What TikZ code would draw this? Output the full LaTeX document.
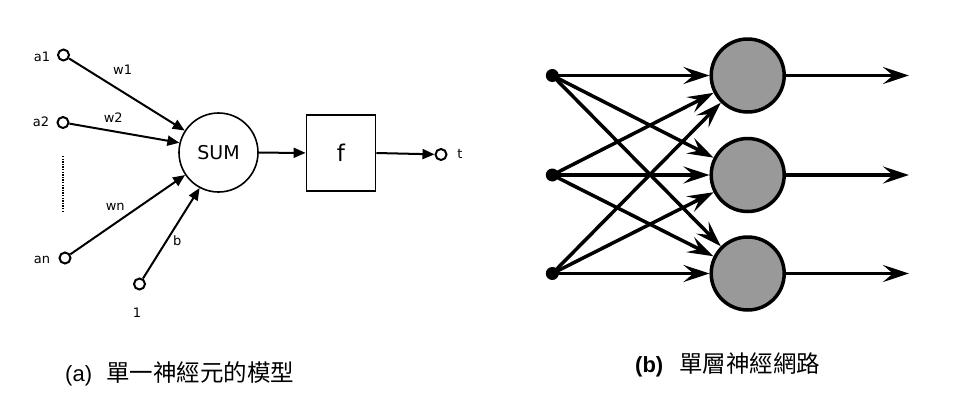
\documentclass[tikz,border=0pt]{standalone}
\usepackage{fontspec}
\setmainfont{DejaVu Sans}
\newfontfamily\arialfont{Liberation Sans}
\newfontfamily\cjkfont{Noto Sans CJK TC}
\usetikzlibrary{arrows.meta}
\definecolor{neurongrey}{RGB}{153,153,153}
\begin{document}
\begin{tikzpicture}[x=1pt,y=-1pt,
  port/.style={circle,draw,line width=2pt,minimum size=11pt,inner sep=0pt,fill=white},
  lab/.style={font=\fontsize{13}{15}\selectfont,inner sep=0pt},
  thinarrow/.style={-{Triangle[length=12pt,width=10pt]},line width=2pt},
  sumnode/.style={circle,draw,line width=1.6pt,minimum size=79pt,inner sep=0pt,font=\fontsize{19}{21}\selectfont},
  funbox/.style={draw,line width=1.8pt,minimum width=69pt,minimum height=76pt,inner sep=0pt,font=\fontsize{23}{25}\selectfont},
  gnode/.style={circle,draw,line width=3.5pt,fill=neurongrey,minimum size=73pt,inner sep=0pt},
  indot/.style={circle,fill=black,minimum size=13pt,inner sep=0pt},
  bigarrow/.style={-{Stealth[length=26pt,width=17pt,inset=10pt]},line width=3.5pt},
  caption/.style={inner sep=0pt,anchor=west}
]
\useasboundingbox[fill=white] (0,0) rectangle (967,405);

% ---------- (a) single neuron ----------
\node[port] (a1) at (63.5,55) {};
\node[port] (a2) at (63,122.5) {};
\node[port] (an) at (65,258) {};
\node[port] (one) at (139.5,284) {};
\node[lab] (la1) at (42,57) {a1};
\node[lab] (la2) at (41,122) {a2};
\node[lab] (lan) at (42,260) {an};
\node[lab] (lone) at (137,313) {1};
\coordinate (dtop) at (63,156);
\coordinate (dbot) at (63,212);
\draw[line width=1.8pt,dash pattern=on 1.4pt off 1.2pt] (dtop) -- (dbot);

\node[sumnode] (sum) at (218.5,152.5) {SUM};
\node[funbox] (f) at (341,153) {f};
\node[port] (t) at (441,154.5) {};
\node[lab] (lt) at (460,154) {t};

\draw[thinarrow] (a1) -- (sum.{147});
\draw[thinarrow] (a2) -- (sum.{166});
\draw[thinarrow] (an) -- (sum.{-146});
\draw[thinarrow] (one) -- (sum.{-118});
\draw[thinarrow] (sum) -- (f);
\draw[thinarrow] (f.east) -- (t);

\node[lab] (lw1) at (122.7,69.3) {w1};
\node[lab] (lw2) at (113.3,117.3) {w2};
\node[lab] (lwn) at (115.3,206.7) {wn};
\node[lab] (lb) at (177.3,241) {b};

% ---------- (b) single-layer network ----------
\node[indot] (d1) at (552.3,75.5) {};
\node[indot] (d2) at (552.3,175) {};
\node[indot] (d3) at (552.3,273.5) {};
\node[gnode] (g1) at (747.7,75.5) {};
\node[gnode] (g2) at (747.7,175) {};
\node[gnode] (g3) at (747.7,273.5) {};
\coordinate (o1) at (909,75.5);
\coordinate (o2) at (909,175);
\coordinate (o3) at (909,273.5);
\foreach \i in {1,2,3}{
  \foreach \j in {1,2,3}{
    \draw[bigarrow] (d\i.center) -- (g\j);
  }
  \draw[bigarrow] (g\i) -- (o\i);
}

% ---------- captions ----------
\node[caption] (capa) at (65,374) {\fontsize{22}{24}\selectfont\arialfont (a)\hspace{14pt}\fontsize{23.5}{25}\selectfont\cjkfont 單一神經元的模型};
\node[caption] (capb) at (635,365) {\fontsize{22}{24}\selectfont\arialfont\bfseries (b)\hspace{16pt}\fontsize{23.5}{25}\selectfont\mdseries\cjkfont 單層神經網路};
\end{tikzpicture}
\end{document}
